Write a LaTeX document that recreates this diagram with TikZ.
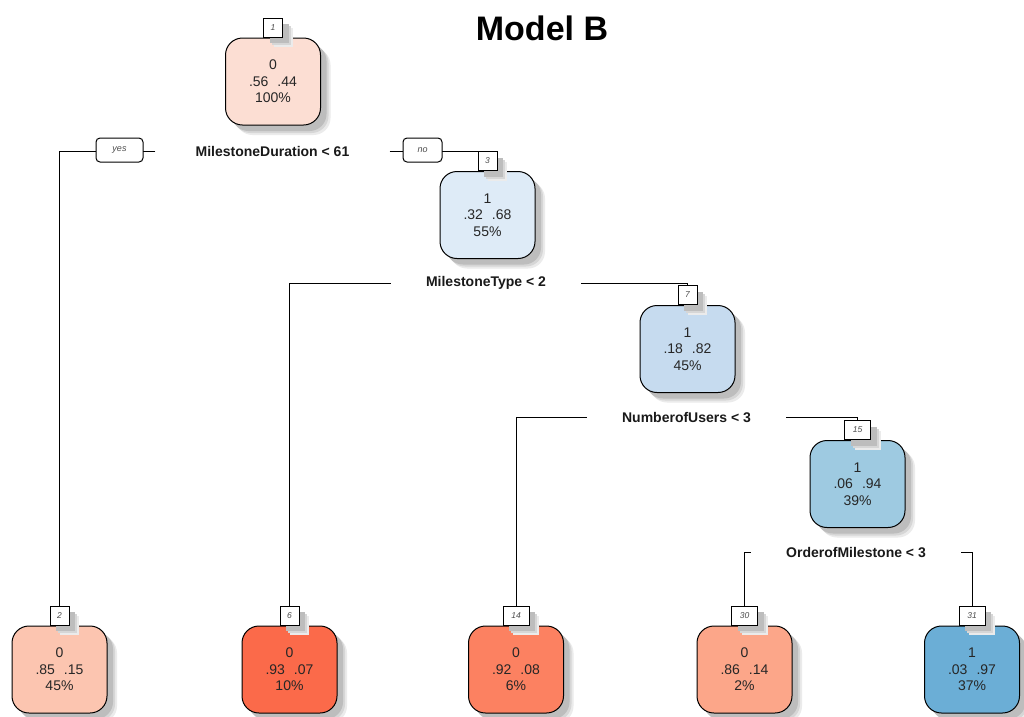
\documentclass[tikz,border=0pt]{standalone}
\usepackage{fontspec}
\setmainfont{Liberation Sans}
\definecolor{cn1}{HTML}{FCDED3}
\definecolor{cn2}{HTML}{FCC5B0}
\definecolor{cn6}{HTML}{FB6A4A}
\definecolor{cn14}{HTML}{FC8161}
\definecolor{cn30}{HTML}{FCA689}
\definecolor{cn3}{HTML}{DEEBF7}
\definecolor{cn7}{HTML}{C6DBEF}
\definecolor{cn15}{HTML}{9ECAE1}
\definecolor{cn31}{HTML}{6BAED6}
\tikzset{
  shad/.style={
    preaction={fill=black!8, transform canvas={shift={(10pt,-10pt)}}},
    preaction={fill=black!16, transform canvas={shift={(8pt,-8pt)}}},
    preaction={fill=black!26, transform canvas={shift={(6pt,-6pt)}}}},
  tbox/.style={shad, draw=black, line width=1pt, rounded corners=17pt,
    minimum width=95pt, minimum height=87pt, inner sep=0pt, align=center,
    text=black!85, font=\fontsize{14}{16.5}\selectfont},
  tag/.style={shad, draw=black, fill=white, line width=0.9pt, anchor=south,
    minimum height=19pt, minimum width=19pt, inner sep=1pt,
    text=black!70, font=\fontsize{8.5}{9}\selectfont\itshape},
  split/.style={inner xsep=35pt, inner ysep=2pt, text=black!90,
    font=\fontsize{14}{16}\selectfont\bfseries},
  yn/.style={draw=black, fill=white, line width=1pt, rounded corners=4pt,
    minimum height=24pt, inner sep=1pt, text=black!70,
    font=\fontsize{9}{10}\selectfont\itshape},
  edge/.style={draw=black, line width=1pt},
  ttl/.style={font=\fontsize{34}{36}\selectfont\bfseries}
}
\begin{document}
\begin{tikzpicture}[x=1pt,y=-1pt]
\useasboundingbox (0,0) rectangle (1024,716);
\fill[white] (0,0) rectangle (1024,716);
\node[ttl] (title) at (542,28) {Model B};
% boxes
\node[tbox, fill=cn1] (n1) at (273,81.5) {0\\.56\hspace{9pt}.44\\100\%};
\node[tbox, fill=cn3] (n3) at (487.5,215) {1\\.32\hspace{9pt}.68\\55\%};
\node[tbox, fill=cn7] (n7) at (687.5,349) {1\\.18\hspace{9pt}.82\\45\%};
\node[tbox, fill=cn15] (n15) at (857.5,484) {1\\.06\hspace{9pt}.94\\39\%};
\node[tbox, fill=cn2] (n2) at (59.5,669.5) {0\\.85\hspace{9pt}.15\\45\%};
\node[tbox, fill=cn6] (n6) at (289.5,669.5) {0\\.93\hspace{9pt}.07\\10\%};
\node[tbox, fill=cn14] (n14) at (516,669.5) {0\\.92\hspace{9pt}.08\\6\%};
\node[tbox, fill=cn30] (n30) at (744.5,669.5) {0\\.86\hspace{9pt}.14\\2\%};
\node[tbox, fill=cn31] (n31) at (972,669.5) {1\\.03\hspace{9pt}.97\\37\%};
% tags
\node[tag] (t1) at (n1.north) {1};
\node[tag] (t3) at (n3.north) {3};
\node[tag] (t7) at (n7.north) {7};
\node[tag, minimum width=26pt] (t15) at (n15.north) {15};
\node[tag] (t2) at (n2.north) {2};
\node[tag] (t6) at (n6.north) {6};
\node[tag, minimum width=26pt] (t14) at (n14.north) {14};
\node[tag, minimum width=26pt] (t30) at (n30.north) {30};
\node[tag, minimum width=26pt] (t31) at (n31.north) {31};
% split labels
\node[split, inner xsep=40pt] (s1) at (272.5,151) {MilestoneDuration < 61};
\node[split] (s3) at (486,283) {MilestoneType < 2};
\node[split] (s7) at (686.5,417) {NumberofUsers < 3};
\node[split] (s15) at (856,552) {OrderofMilestone < 3};
% connectors
\draw[edge] (s1.west) -| (t2.north);
\draw[edge] (s1.east) -| (t3.north);
\draw[edge] (s3.west) -| (t6.north);
\draw[edge] (s3.east) -| (t7.north);
\draw[edge] (s7.west) -| (t14.north);
\draw[edge] (s7.east) -| (t15.north);
\draw[edge] (s15.west) -| (t30.north);
\draw[edge] (s15.east) -| (t31.north);
% yes / no
\node[yn, minimum width=47pt] (yes) at (119.5,150) {yes};
\node[yn, minimum width=39pt] (no) at (422.5,150) {no};
\end{tikzpicture}
\end{document}
